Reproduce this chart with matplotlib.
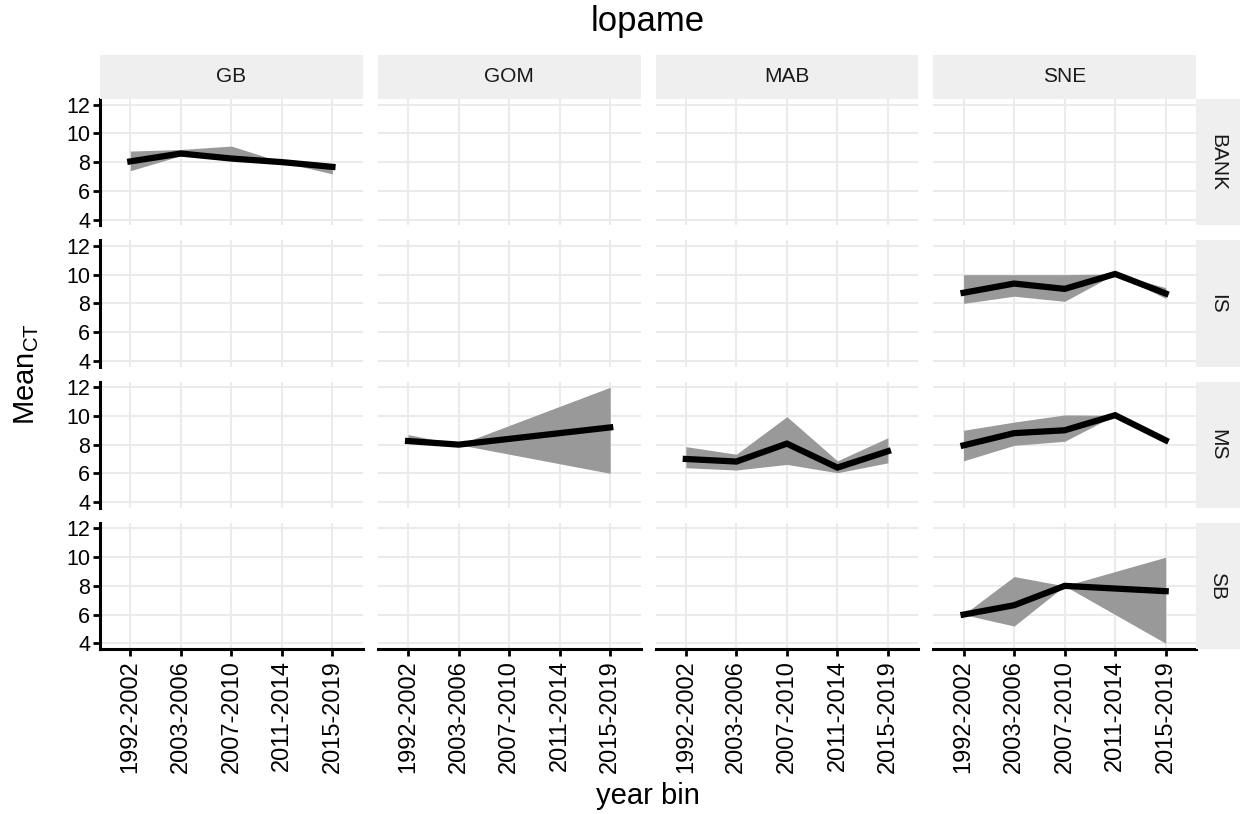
import matplotlib
matplotlib.use("Agg")
import matplotlib.pyplot as plt

plt.rcParams['font.family'] = ['Liberation Sans', 'DejaVu Sans']
plt.rcParams['mathtext.fontset'] = 'custom'
plt.rcParams['mathtext.rm'] = 'Liberation Sans'
plt.rcParams['mathtext.it'] = 'Liberation Sans'

# ---- data ----
year_bins = ['1992-2002', '2003-2006', '2007-2010', '2011-2014', '2015-2019']
regions = ['GB', 'GOM', 'MAB', 'SNE']
strata = ['BANK', 'IS', 'MS', 'SB']
y_ticks = [4, 6, 8, 10, 12]

gb_bank_bins = ['1992-2002', '2003-2006', '2007-2010', '2011-2014', '2015-2019']
gb_bank_mean = [8.05, 8.6, 8.25, 8.0, 7.67]
gb_bank_lo = [7.4, 8.45, 8.1, 8.0, 7.18]
gb_bank_hi = [8.77, 8.88, 9.12, 8.0, 7.86]

sne_is_bins = ['1992-2002', '2003-2006', '2007-2010', '2011-2014', '2015-2019']
sne_is_mean = [8.74, 9.38, 9.01, 10.05, 8.69]
sne_is_lo = [8.0, 8.5, 8.14, 10.05, 8.35]
sne_is_hi = [10.0, 10.0, 10.0, 10.05, 9.1]

gom_ms_bins = ['1992-2002', '2003-2006', '2015-2019']
gom_ms_mean = [8.25, 8.0, 9.2]
gom_ms_lo = [8.1, 8.0, 6.0]
gom_ms_hi = [8.7, 8.0, 12.0]

mab_ms_bins = ['1992-2002', '2003-2006', '2007-2010', '2011-2014', '2015-2019']
mab_ms_mean = [7.0, 6.82, 8.07, 6.4, 7.54]
mab_ms_lo = [6.39, 6.23, 6.62, 6.04, 6.73]
mab_ms_hi = [7.86, 7.33, 9.95, 6.87, 8.48]

sne_ms_bins = ['1992-2002', '2003-2006', '2007-2010', '2011-2014', '2015-2019']
sne_ms_mean = [7.95, 8.8, 9.0, 10.05, 8.3]
sne_ms_lo = [6.87, 7.95, 8.23, 10.05, 8.25]
sne_ms_hi = [9.0, 9.57, 10.07, 10.05, 8.35]

sne_sb_bins = ['1992-2002', '2003-2006', '2007-2010', '2015-2019']
sne_sb_mean = [6.0, 6.65, 8.0, 7.63]
sne_sb_lo = [6.0, 5.2, 8.0, 4.0]
sne_sb_hi = [6.0, 8.65, 8.0, 10.0]

series = {
    ('GB', 'BANK'): (gb_bank_bins, gb_bank_mean, gb_bank_lo, gb_bank_hi),
    ('SNE', 'IS'): (sne_is_bins, sne_is_mean, sne_is_lo, sne_is_hi),
    ('GOM', 'MS'): (gom_ms_bins, gom_ms_mean, gom_ms_lo, gom_ms_hi),
    ('MAB', 'MS'): (mab_ms_bins, mab_ms_mean, mab_ms_lo, mab_ms_hi),
    ('SNE', 'MS'): (sne_ms_bins, sne_ms_mean, sne_ms_lo, sne_ms_hi),
    ('SNE', 'SB'): (sne_sb_bins, sne_sb_mean, sne_sb_lo, sne_sb_hi),
}

# ---- layout (pixels) ----
W, H = 1243, 814
fig = plt.figure(figsize=(W / 100, H / 100), dpi=100)

left, right_edge = 100, 1196
top, bottom_edge = 99, 649
gap = 15
ncol, nrow = 4, 4
pw = (right_edge - left - gap * (ncol - 1)) / ncol
ph = (bottom_edge - top - gap * (nrow - 1)) / nrow
strip_h = 44
strip_w = 44
strip_col = '#EFEFEF'
grid_col = '#EBEBEB'
ytick_fs = 15.5
xtick_fs = 17
strip_fs = 15
title_fs = 25
axis_title_fs = 21


def fr(x, y, w, h):
    return [x / W, 1 - (y + h) / H, w / W, h / H]


xpos = {b: i for i, b in enumerate(year_bins)}

for r, st in enumerate(strata):
    for c, rg in enumerate(regions):
        x0 = left + c * (pw + gap)
        y0 = top + r * (ph + gap)
        ax = fig.add_axes(fr(x0, y0, pw, ph))
        ax.set_xlim(-0.6, len(year_bins) - 1 + 0.6)
        ax.set_ylim(3.6, 12.4)
        ax.set_xticks(range(len(year_bins)))
        ax.set_yticks(y_ticks)
        ax.grid(True, color=grid_col, lw=1.5)
        ax.set_axisbelow(True)
        for s in ['top', 'right']:
            ax.spines[s].set_visible(False)
        ax.spines['left'].set_visible(c == 0)
        ax.spines['bottom'].set_visible(r == nrow - 1)
        for s in ['left', 'bottom']:
            ax.spines[s].set_linewidth(2.2)
            ax.spines[s].set_color('black')
        ax.tick_params(axis='y', left=(c == 0), labelleft=(c == 0),
                       length=5, width=2, labelsize=ytick_fs, pad=2, colors='black')
        ax.tick_params(axis='x', bottom=(r == nrow - 1), labelbottom=(r == nrow - 1),
                       length=5, width=2, labelsize=xtick_fs, pad=3, colors='black')
        if r == nrow - 1:
            ax.set_xticklabels(year_bins, rotation=90)
        key = (rg, st)
        if key in series:
            bins, mean, lo, hi = series[key]
            xs = [xpos[b] for b in bins]
            ax.fill_between(xs, lo, hi, color='#999999', lw=0, zorder=2)
            ax.plot(xs, mean, color='black', lw=4.5, solid_joinstyle='miter', zorder=3)
        # top strips
        if r == 0:
            sax = fig.add_axes(fr(x0, y0 - strip_h, pw, strip_h))
            sax.set_facecolor(strip_col)
            sax.set_xticks([]); sax.set_yticks([])
            for s in sax.spines.values():
                s.set_visible(False)
            sax.text(0.5, 0.5, rg, ha='center', va='center', fontsize=strip_fs,
                     color='#1A1A1A', transform=sax.transAxes)
        # right strips
        if c == ncol - 1:
            sax = fig.add_axes(fr(x0 + pw, y0, strip_w, ph))
            sax.set_facecolor(strip_col)
            sax.set_xticks([]); sax.set_yticks([])
            for s in sax.spines.values():
                s.set_visible(False)
            sax.text(0.5, 0.5, st, ha='center', va='center', fontsize=strip_fs,
                     color='#1A1A1A', rotation=-90, transform=sax.transAxes)

fig.text((left + right_edge) / 2 / W, 1 - 22 / H, 'lopame', ha='center', va='center',
         fontsize=title_fs)
fig.text((left + right_edge) / 2 / W, 1 - 796 / H, 'year bin', ha='center', va='center',
         fontsize=axis_title_fs)
fig.text(27 / W, 1 - ((top + bottom_edge) / 2) / H, r'Mean$_{\mathrm{CT}}$',
         ha='center', va='center', rotation=90, fontsize=axis_title_fs)

fig.savefig('out.png', dpi=100)
